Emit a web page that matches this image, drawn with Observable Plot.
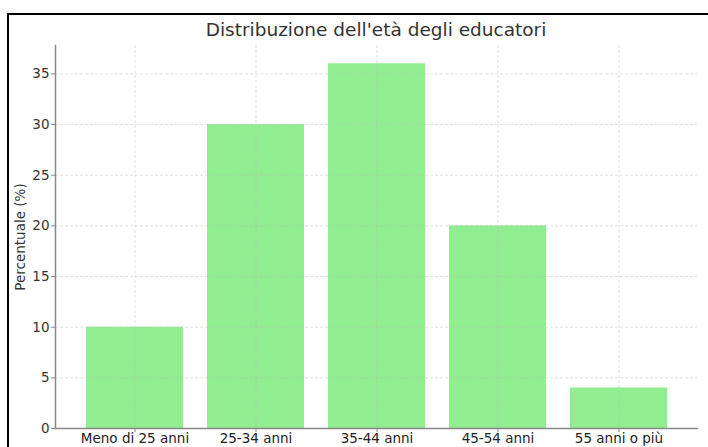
<!DOCTYPE html>
<html><head><meta charset="utf-8">
<script src="https://cdn.jsdelivr.net/npm/d3@7"></script>
<script src="https://cdn.jsdelivr.net/npm/@observablehq/plot@0.6"></script>
<style>
body{margin:0;background:#fff;font-family:"DejaVu Sans",sans-serif;}
#wrap{position:relative;width:708px;height:447px;overflow:hidden;}
#border{position:absolute;left:7px;top:13px;width:720px;height:460px;border-top:2px solid #000;border-left:2px solid #000;box-sizing:border-box;}
#title{position:absolute;left:55px;width:642px;top:19px;text-align:center;font-size:18.5px;color:#333;white-space:nowrap;}
#chart{position:absolute;left:0;top:0;}
</style></head>
<body><div id="wrap"><div id="border"></div><div id="title">Distribuzione dell'età degli educatori</div><div id="chart"></div></div>
<script>
const categories = ["Meno di 25 anni","25-34 anni","35-44 anni","45-54 anni","55 anni o più"];
const values = [10, 30, 36, 20, 4];
const yTicks = [0,5,10,15,20,25,30,35];
const data = categories.map((c,i)=>({cat:c, val:values[i]}));
const chart = Plot.plot({
  width: 708, height: 447,
  marginLeft: 55, marginRight: 11, marginTop: 45, marginBottom: 19,
  style: {fontFamily: "DejaVu Sans, sans-serif", fontSize: "13.5px", color: "#333", background: "transparent"},
  x: {domain: categories, paddingInner: 0.2, paddingOuter: 0.24, label: null},
  y: {domain: [0, 37.8], label: null},
  marks: [
    Plot.barY(data, {x: "cat", y: "val", fill: "#90EE90"}),
    Plot.gridY(yTicks, {stroke: "#bbb", strokeOpacity: 0.6, strokeWidth: 0.8, strokeDasharray: "3,2"}),
    Plot.gridX(categories, {stroke: "#bbb", strokeOpacity: 0.6, strokeWidth: 0.8, strokeDasharray: "3,2"}),
    Plot.axisY(yTicks, {tickSize: 4, stroke: "#888", tickPadding: 2, fill: "#333", fontSize: 13.5, label: null}),
    Plot.axisX(categories, {tickSize: 4, stroke: "#888", tickPadding: 1, fill: "#222", fontSize: 13.5, label: null}),
    Plot.frame({anchor: "left", stroke: "#888", strokeWidth: 1.5}),
    Plot.frame({anchor: "bottom", stroke: "#888", strokeWidth: 1.5}),
    Plot.text(["Percentuale (%)"], {frameAnchor: "left", textAnchor: "middle", dx: -35, rotate: -90, fontSize: 13.5, fill: "#333"})
  ]
});
document.getElementById("chart").appendChild(chart);
</script></body></html>
